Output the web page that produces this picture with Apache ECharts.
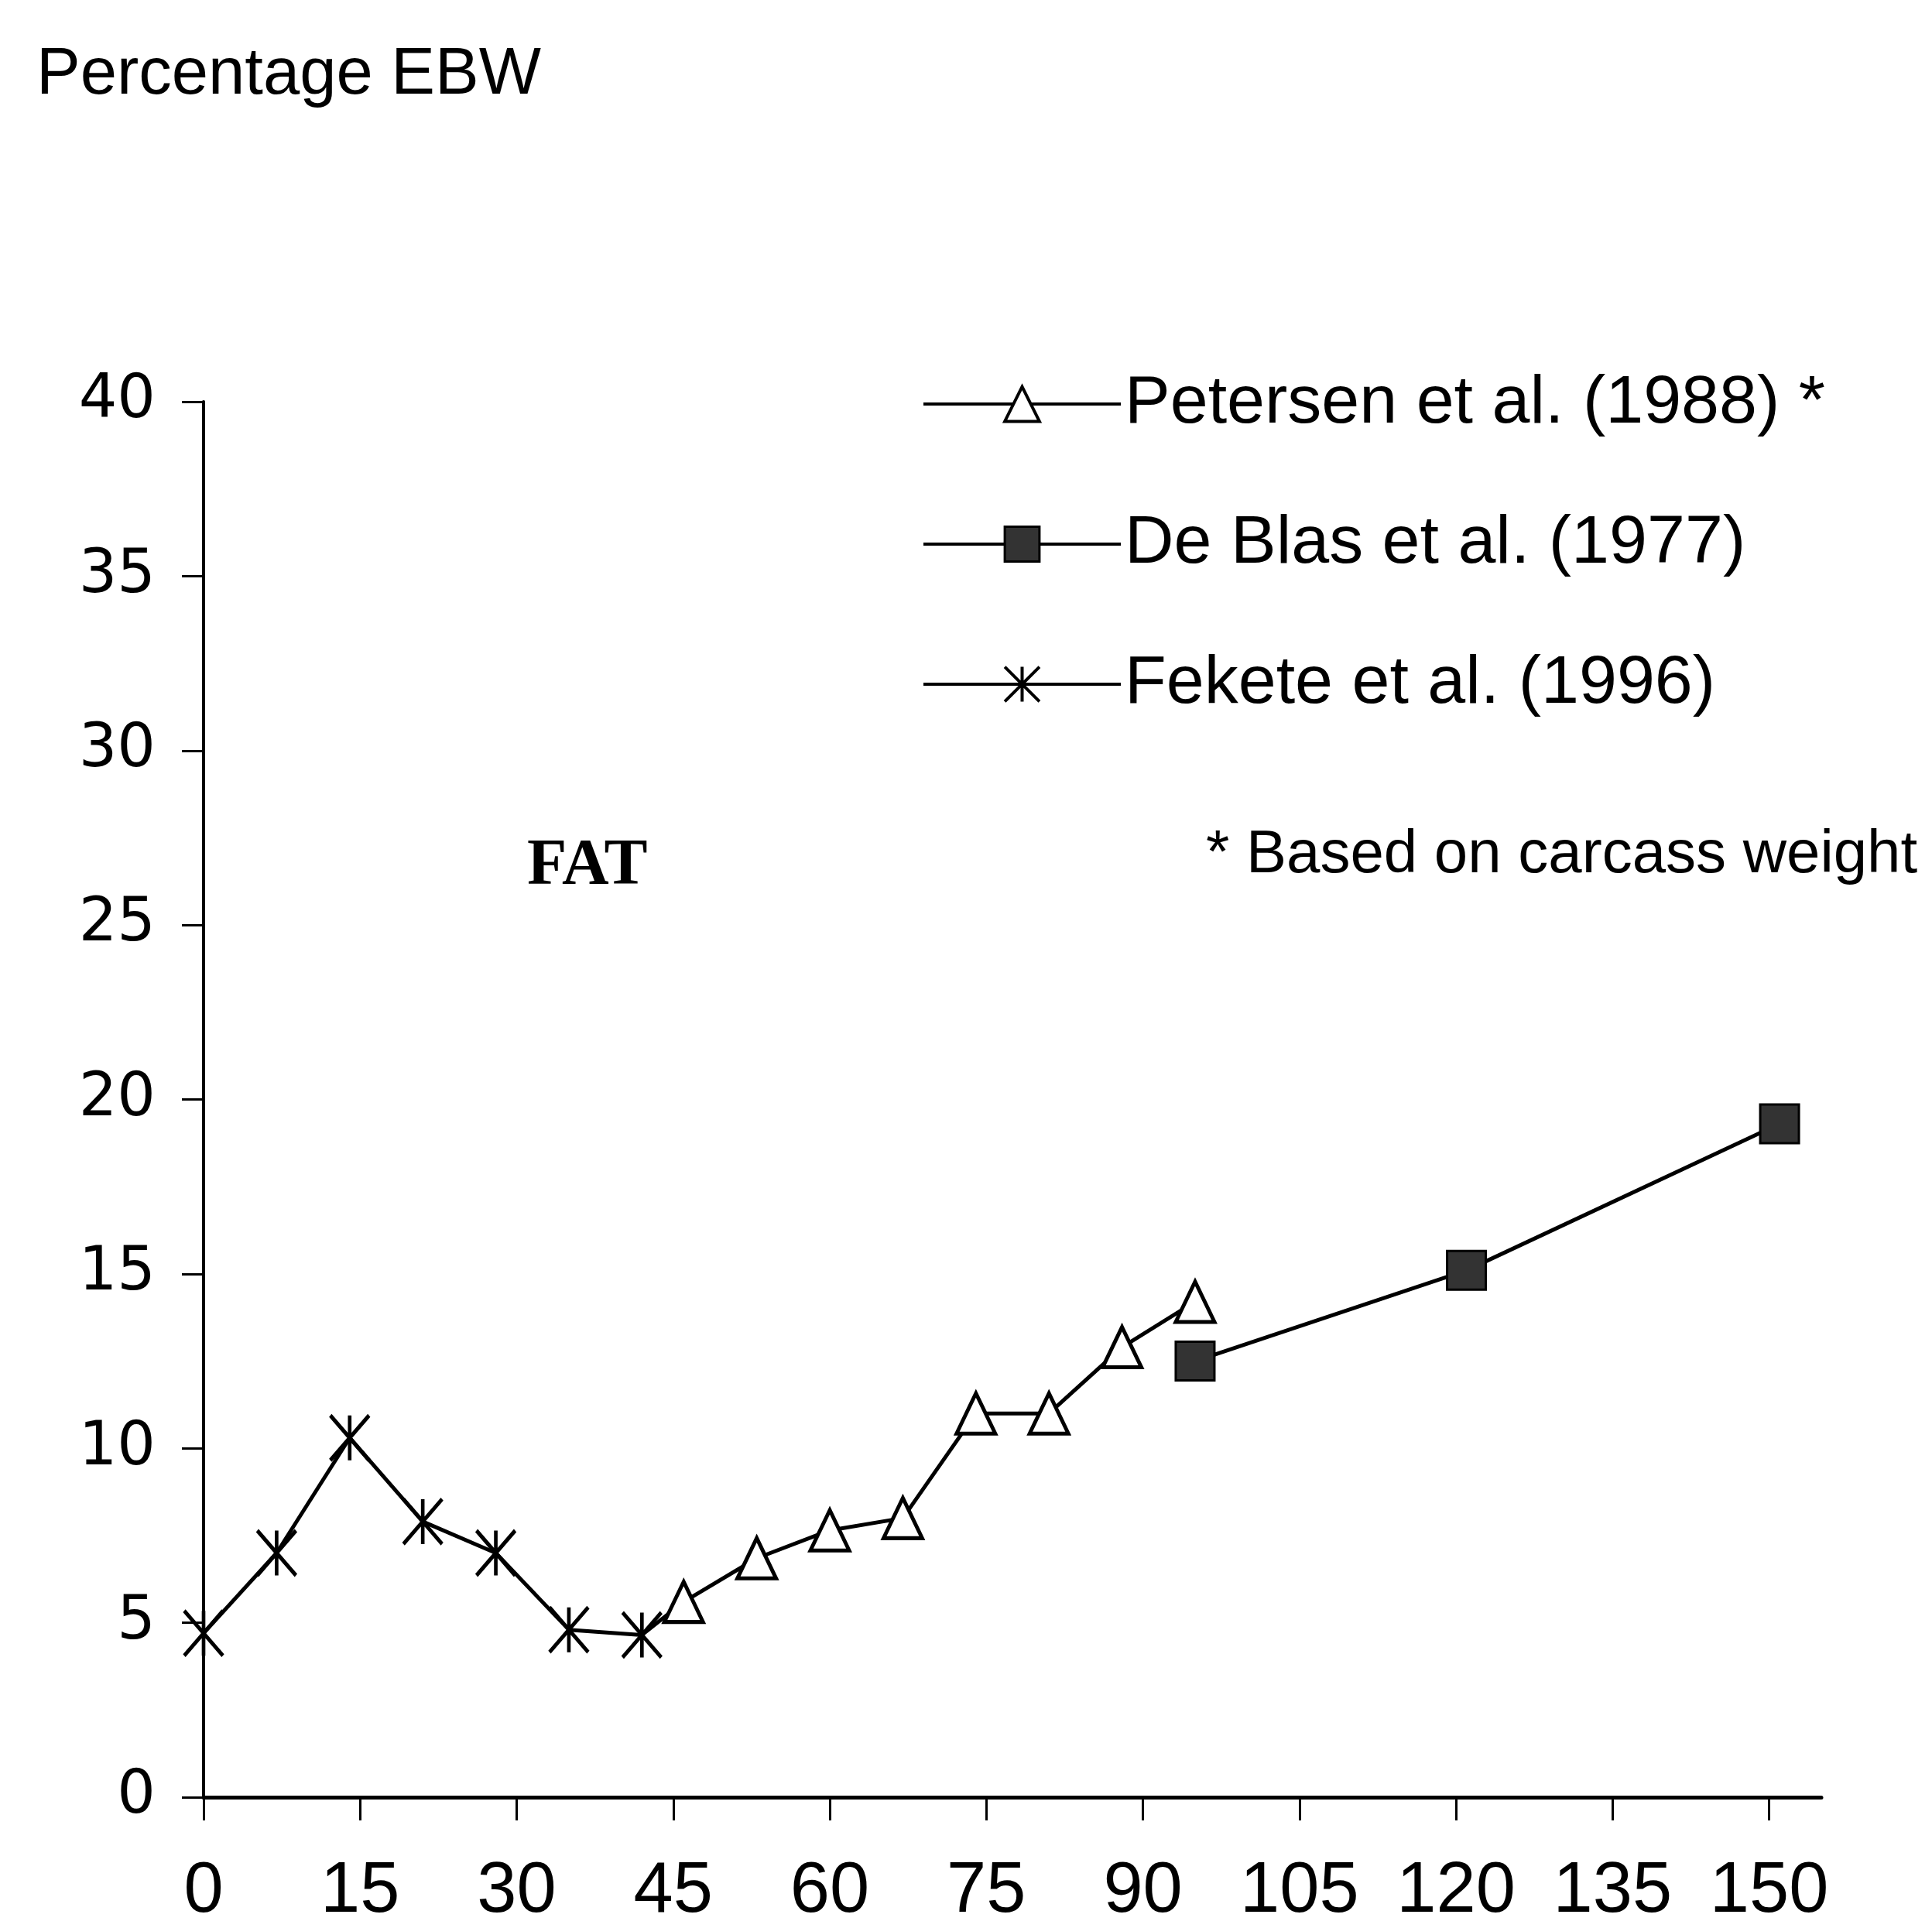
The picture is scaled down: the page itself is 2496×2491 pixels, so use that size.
<!DOCTYPE html>
<html>
<head>
<meta charset="utf-8">
<script src="https://cdn.jsdelivr.net/npm/echarts@6/dist/echarts.min.js"></script>
<style>
html,body{margin:0;padding:0;background:#fff;}
#chart{width:2496px;height:2491px;}
</style>
</head>
<body>
<div id="chart"></div>
<script>
const xTicks = [0, 15, 30, 45, 60, 75, 90, 105, 120, 135, 150];
const yTicks = [0, 5, 10, 15, 20, 25, 30, 35, 40];

const seriesNames = ['Petersen et al. (1988) *', 'De Blas et al. (1977)', 'Fekete et al. (1996)'];

const petersenX = [46, 53, 60, 67, 74, 81, 88, 95];
const petersenY = [5.6, 6.85, 7.65, 8.0, 11.0, 11.0, 12.9, 14.2];

const deBlasX = [95, 121, 151];
const deBlasY = [12.5, 15.1, 19.3];

const feketeX = [0, 7, 14, 21, 28, 35, 42];
const feketeY = [4.7, 7.0, 10.3, 7.9, 7.0, 4.8, 4.65];

const titleText = 'Percentage EBW';
const panelText = 'FAT';
const noteText = '* Based on carcass weight';

function pairs(xs, ys) { return xs.map((x, i) => [x, ys[i]]); }

// Fekete line continues to the first Petersen point (no marker there)
const feketeData = pairs(feketeX, feketeY);
feketeData.push({ value: [petersenX[0], petersenY[0]], symbol: 'none' });

const asteriskPath = 'path://M0,0L10,10M10,0L0,10M5,0L5,10';
const FONT = 'Liberation Sans, Arial, sans-serif';

const chart = echarts.init(document.getElementById('chart'));
chart.setOption({
  backgroundColor: '#ffffff',
  animation: false,
  title: {
    text: titleText,
    left: 42, top: 50,
    textStyle: { fontFamily: FONT, fontSize: 85, fontWeight: 'normal', color: '#000' }
  },
  graphic: [
    { type: 'text', left: 681, top: 1078,
      style: { text: panelText, font: 'bold 84px "Liberation Serif", "Times New Roman", serif', fill: '#000' } },
    { type: 'text', left: 1558, top: 1066,
      style: { text: noteText, font: '78px "Liberation Sans", Arial, sans-serif', fill: '#000' } }
  ],
  legend: {
    orient: 'vertical',
    left: 1186, top: 472,
    itemWidth: 255, itemHeight: 56, itemGap: 91,
    selectedMode: false,
    textStyle: { fontFamily: FONT, fontSize: 88, color: '#000', lineHeight: 90 },
    data: [
      { name: seriesNames[0], itemStyle: { borderWidth: 4 }, lineStyle: { width: 4 } },
      { name: seriesNames[1], itemStyle: { borderWidth: 3 }, lineStyle: { width: 4 } },
      { name: seriesNames[2], itemStyle: { borderWidth: 4 }, lineStyle: { width: 4 } }
    ]
  },
  grid: { left: 263, right: 143, top: 519, bottom: 167, containLabel: false },
  xAxis: {
    type: 'value', min: 0, max: 155,
    axisLine: { show: true, onZero: false, lineStyle: { color: '#000', width: 5 } },
    axisTick: { show: true, customValues: xTicks, length: 30, lineStyle: { color: '#000', width: 3 } },
    axisLabel: { customValues: xTicks, fontFamily: FONT, fontSize: 92, color: '#000', margin: 77 },
    splitLine: { show: false }
  },
  yAxis: {
    type: 'value', min: 0, max: 40, interval: 5,
    axisLine: { show: true, lineStyle: { color: '#000', width: 4 } },
    axisTick: { show: true, length: 28, lineStyle: { color: '#000', width: 3 } },
    axisLabel: { fontFamily: 'DejaVu Sans, sans-serif', fontSize: 78, color: '#000', margin: 62 },
    splitLine: { show: false }
  },
  series: [
    {
      name: seriesNames[0], type: 'line',
      data: pairs(petersenX, petersenY),
      symbol: 'triangle', symbolSize: [50, 52],
      itemStyle: { color: '#ffffff', borderColor: '#000', borderWidth: 5 },
      lineStyle: { color: '#000', width: 5 },
      z: 3
    },
    {
      name: seriesNames[1], type: 'line',
      data: pairs(deBlasX, deBlasY),
      symbol: 'rect', symbolSize: 50,
      itemStyle: { color: '#333333', borderColor: '#000', borderWidth: 3 },
      lineStyle: { color: '#000', width: 5 },
      z: 3
    },
    {
      name: seriesNames[2], type: 'line',
      data: feketeData,
      symbol: asteriskPath, symbolSize: [50, 58], symbolKeepAspect: false,
      itemStyle: { color: '#000', borderColor: '#000', borderWidth: 5 },
      lineStyle: { color: '#000', width: 5 },
      z: 2
    }
  ]
});
</script>
</body>
</html>
